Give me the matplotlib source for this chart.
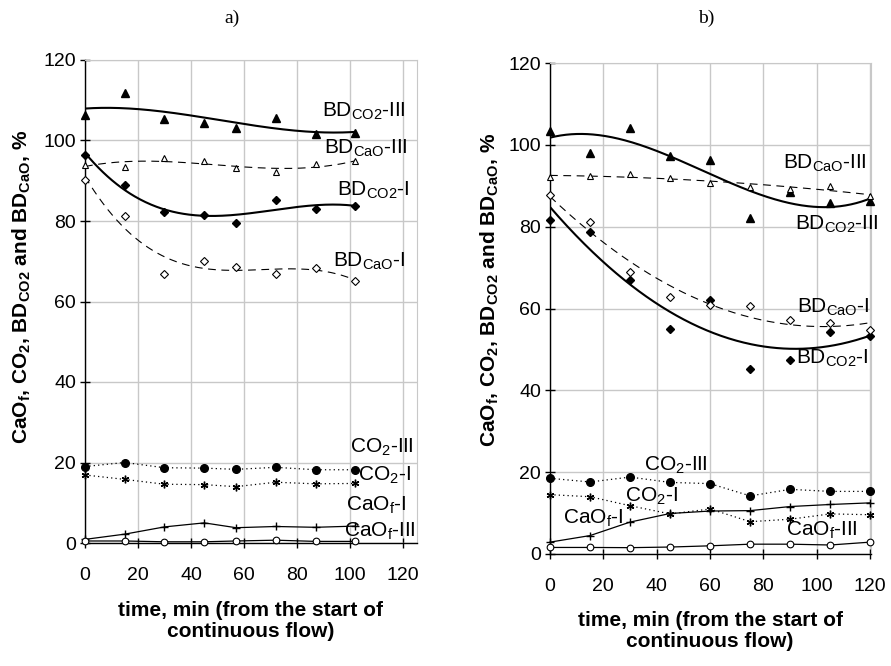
import numpy as np
import matplotlib
matplotlib.use("Agg")
import matplotlib.pyplot as plt

plt.rcParams['font.family'] = ['Liberation Sans', 'DejaVu Sans']
plt.rcParams['mathtext.fontset'] = 'custom'
plt.rcParams['mathtext.rm'] = 'Liberation Sans'
plt.rcParams['mathtext.it'] = 'Liberation Sans:italic'
plt.rcParams['mathtext.bf'] = 'Liberation Sans:bold'

# ---------------- data: panel a ----------------
t_a = [0, 15, 30, 45, 57, 72, 87, 102]
a_bdco2_III = [106.4, 111.9, 105.4, 104.4, 103.1, 105.7, 101.7, 101.8]
a_bdcao_III = [94.0, 93.4, 95.6, 95.0, 93.1, 92.2, 94.1, 94.8]
a_bdco2_I = [96.4, 89.0, 82.3, 81.5, 79.5, 85.3, 83.0, 83.8]
a_bdcao_I = [90.2, 81.3, 66.9, 70.0, 68.6, 66.9, 68.3, 65.2]
a_co2_III = [19.0, 20.0, 18.7, 18.6, 18.3, 18.8, 18.2, 18.2]
a_co2_I = [16.9, 15.8, 14.6, 14.5, 14.0, 15.1, 14.7, 14.8]
a_caof_I = [0.9, 2.2, 4.0, 5.0, 3.8, 4.1, 3.9, 4.2]
a_caof_III = [0.5, 0.5, 0.3, 0.3, 0.5, 0.7, 0.4, 0.4]
# polynomial trendline orders (BD_CO2-III, BD_CaO-III, BD_CO2-I, BD_CaO-I)
a_orders = [3, 3, 3, 3]

# ---------------- data: panel b ----------------
t_b = [0, 15, 30, 45, 60, 75, 90, 105, 120]
b_bdco2_III = [103.3, 98.0, 104.1, 97.2, 96.2, 82.0, 88.5, 85.7, 86.3]
b_bdcao_III = [92.1, 92.5, 92.8, 92.0, 90.7, 89.8, 89.3, 89.9, 87.5]
b_bdcao_I = [87.7, 81.1, 68.8, 62.9, 60.8, 60.5, 57.2, 56.4, 54.8]
b_bdco2_I = [81.7, 78.6, 66.9, 55.1, 62.0, 45.1, 47.3, 54.3, 53.3]
b_co2_III = [18.5, 17.6, 18.8, 17.5, 17.2, 14.2, 15.8, 15.3, 15.3]
b_co2_I = [14.5, 14.0, 11.8, 9.8, 11.0, 7.9, 8.5, 9.8, 9.6]
b_caof_I = [2.9, 4.5, 7.8, 9.9, 10.5, 10.6, 11.6, 12.1, 12.5]
b_caof_III = [1.6, 1.6, 1.55, 1.7, 2.0, 2.4, 2.4, 2.2, 2.9]
b_orders = [3, 2, 2, 2]

yticks = [0, 20, 40, 60, 80, 100, 120]
xticks = [0, 20, 40, 60, 80, 100, 120]

lab_bdco2_III = r'BD$_{\mathrm{CO2}}$-III'
lab_bdcao_III = r'BD$_{\mathrm{CaO}}$-III'
lab_bdco2_I = r'BD$_{\mathrm{CO2}}$-I'
lab_bdcao_I = r'BD$_{\mathrm{CaO}}$-I'
lab_co2_III = r'CO$_{\mathrm{2}}$-III'
lab_co2_I = r'CO$_{\mathrm{2}}$-I'
lab_caof_I = r'CaO$_{\mathrm{f}}$-I'
lab_caof_III = r'CaO$_{\mathrm{f}}$-III'

# label anchor positions (left x, centre y) in data units
pos_a = {
    lab_bdco2_III: (89.3, 107.3), lab_bdcao_III: (90.2, 98.0),
    lab_bdco2_I: (95.0, 87.7), lab_bdcao_I: (93.7, 70.0),
    lab_co2_III: (100.0, 23.8), lab_co2_I: (103.1, 16.8),
    lab_caof_I: (98.5, 9.4), lab_caof_III: (97.7, 3.0),
}
pos_b = {
    lab_bdcao_III: (87.2, 95.5), lab_bdco2_III: (91.9, 80.6),
    lab_bdcao_I: (92.5, 60.3), lab_bdco2_I: (92.3, 47.8),
    lab_co2_III: (35.4, 21.6), lab_co2_I: (28.1, 14.0),
    lab_caof_I: (4.8, 8.6), lab_caof_III: (88.5, 5.9),
}

GRID = '#c8c8c8'
fig = plt.figure(figsize=(8.91, 6.66), dpi=100)


def trend(ax, x, y, order, ls, lw):
    xs = np.linspace(min(x), max(x), 300)
    ys = np.polyval(np.polyfit(x, y, order), xs)
    if ls == 'solid':
        ax.plot(xs, ys, color='black', lw=lw, solid_capstyle='butt', zorder=3)
    else:
        ax.plot(xs, ys, color='black', lw=lw, dashes=(7, 5), zorder=3)


def panel(ax, t, s, orders, xmax, pos):
    (bdco2_III, bdcao_III, bdco2_I, bdcao_I, co2_III, co2_I, caof_I, caof_III) = s
    ax.set_xlim(0, xmax)
    ax.set_ylim(0, 120)
    ax.set_xticks(xticks)
    ax.set_yticks(yticks)
    ax.grid(True, color=GRID, lw=1.0, zorder=0)
    ax.set_axisbelow(True)
    for sp in ['top', 'right']:
        ax.spines[sp].set_color(GRID)
    for sp in ['left', 'bottom']:
        ax.spines[sp].set_color('black')
        ax.spines[sp].set_linewidth(1.0)
    ax.tick_params(axis='both', direction='inout', length=7, width=1.0,
                   labelsize=14, colors='black')
    ax.tick_params(axis='x', pad=14)
    ax.tick_params(axis='y', pad=3)

    # trendlines
    trend(ax, t, bdco2_III, orders[0], 'solid', 1.5)
    trend(ax, t, bdcao_III, orders[1], 'dashed', 0.8)
    trend(ax, t, bdco2_I, orders[2], 'solid', 1.5)
    trend(ax, t, bdcao_I, orders[3], 'dashed', 0.8)

    # markers for BD series
    ax.plot(t, bdco2_III, ls='none', marker='^', ms=5.5, mfc='black', mec='black', zorder=4, clip_on=False)
    ax.plot(t, bdcao_III, ls='none', marker='^', ms=5, mfc='white', mec='black', mew=0.8, zorder=4, clip_on=False)
    ax.plot(t, bdco2_I, ls='none', marker='D', ms=3.6, mfc='black', mec='black', zorder=4, clip_on=False)
    ax.plot(t, bdcao_I, ls='none', marker='D', ms=3.6, mfc='white', mec='black', mew=0.8, zorder=4, clip_on=False)

    # CO2 series, dotted
    ax.plot(t, co2_III, color='black', lw=0.9, ls=(0, (1, 2.5)), marker='o', ms=5.5,
            mfc='black', mec='black', zorder=4, clip_on=False)
    ax.plot(t, co2_I, color='black', lw=0.9, ls=(0, (1, 2.5)), marker=(6, 2, 0), ms=5.5,
            mec='black', mew=1.0, zorder=4, clip_on=False)
    # CaOf series, solid thin
    ax.plot(t, caof_I, color='black', lw=0.9, marker='+', ms=5.5, mew=1.0, zorder=4, clip_on=False)
    ax.plot(t, caof_III, color='black', lw=0.9, marker='o', ms=4.8, mfc='white', mec='black',
            mew=0.8, zorder=4, clip_on=False)

    for lab, (x, y) in pos.items():
        ax.text(x, y, lab, fontsize=15, ha='left', va='center', zorder=6, clip_on=False)


axa = fig.add_axes([85 / 891, 1 - 543 / 666, (417 - 85) / 891, (543 - 60) / 666])
panel(axa, t_a, (a_bdco2_III, a_bdcao_III, a_bdco2_I, a_bdcao_I, a_co2_III, a_co2_I,
                 a_caof_I, a_caof_III), a_orders, 125.3, pos_a)

axb = fig.add_axes([550 / 891, 1 - 554 / 666, (871 - 550) / 891, (554 - 63) / 666])
panel(axb, t_b, (b_bdco2_III, b_bdcao_III, b_bdco2_I, b_bdcao_I, b_co2_III, b_co2_I,
                 b_caof_I, b_caof_III), b_orders, 120.3, pos_b)

ylab = r'CaO$_{\mathbf{f}}$, CO$_{\mathbf{2}}$, BD$_{\mathbf{CO2}}$ and BD$_{\mathbf{CaO}}$, %'
xlab = 'time, min (from the start of\ncontinuous flow)'
fig.text(22 / 891, 1 - 287 / 666, ylab, rotation=90, ha='center', va='center',
         fontsize=15, fontweight='bold')
fig.text(490 / 891, 1 - 290 / 666, ylab, rotation=90, ha='center', va='center',
         fontsize=15, fontweight='bold')
fig.text(251 / 891, 1 - 621 / 666, xlab, ha='center', va='center', fontsize=15,
         fontweight='bold', linespacing=1.1)
fig.text(710 / 891, 1 - 631 / 666, xlab, ha='center', va='center', fontsize=15,
         fontweight='bold', linespacing=1.1)
fig.text(232 / 891, 1 - 18 / 666, 'a)', ha='center', va='center', fontsize=14,
         family='Liberation Serif')
fig.text(706 / 891, 1 - 18 / 666, 'b)', ha='center', va='center', fontsize=14,
         family='Liberation Serif')

fig.savefig('out.png', dpi=100)
